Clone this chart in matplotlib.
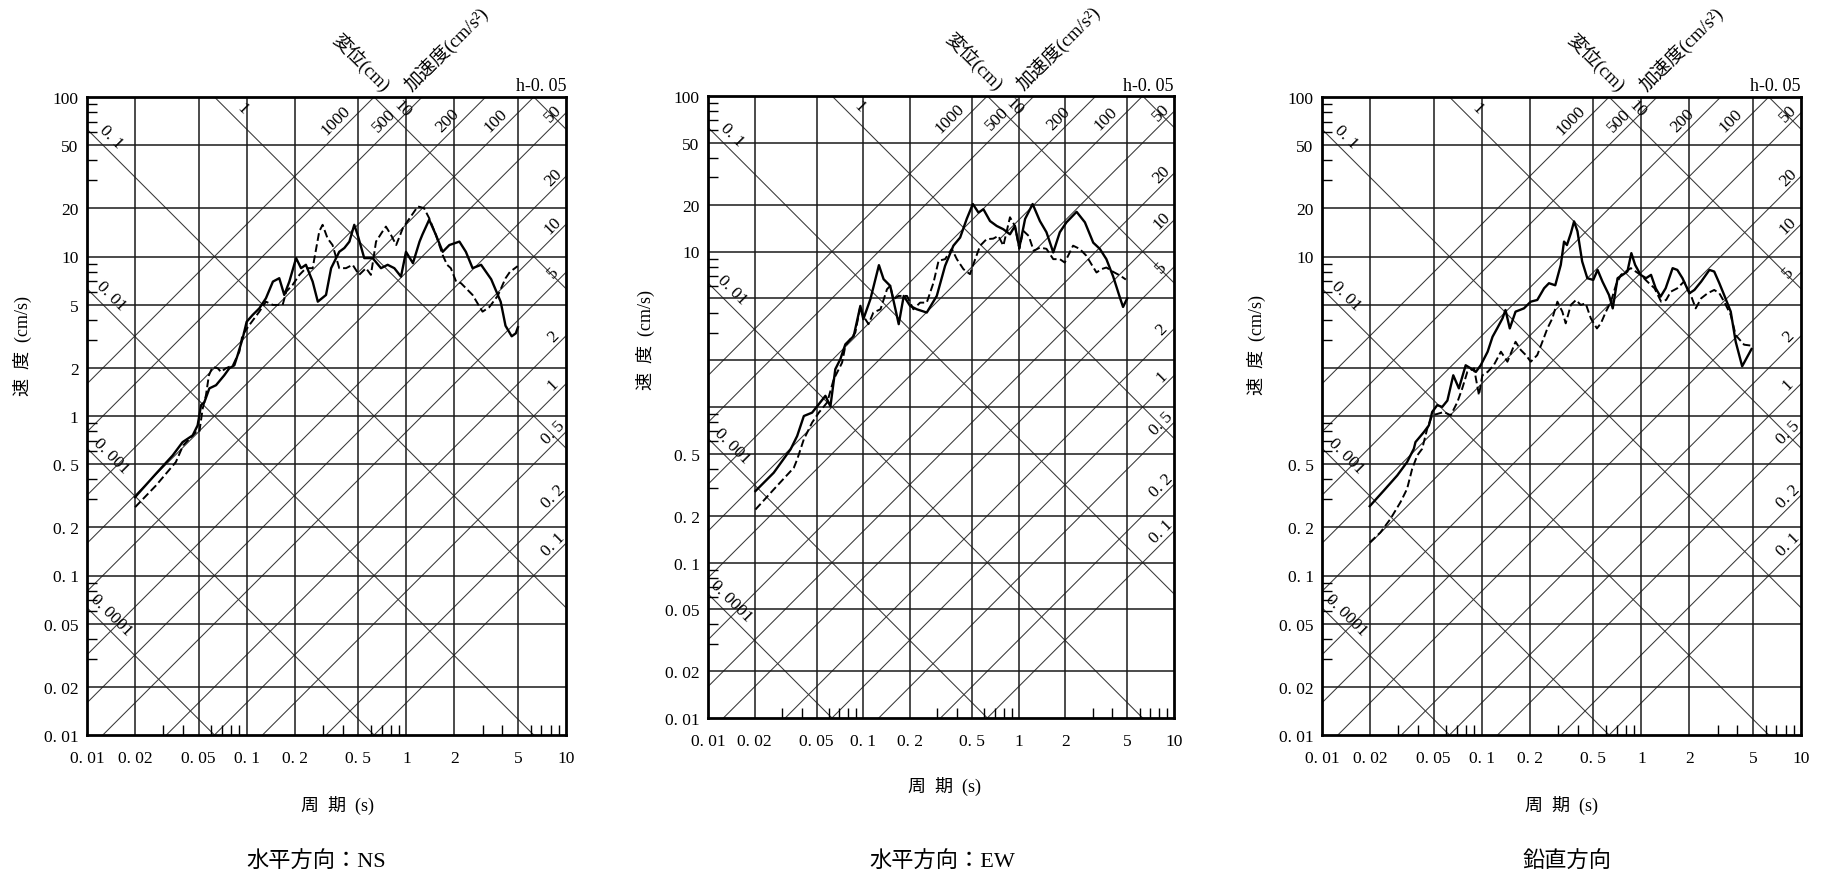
import numpy as np
import matplotlib.pyplot as plt
from matplotlib.ticker import FixedLocator, FixedFormatter, NullFormatter

plt.rcParams['font.family'] = ['Liberation Serif', 'Noto Sans CJK JP']

# 応答スペクトル (周期 s, 速度 cm/s)
ns_solid_T = [0.020, 0.027, 0.0344, 0.0397, 0.0459, 0.0493, 0.0518, 0.0543, 0.0584, 0.0643,
              0.0724, 0.0778, 0.0837, 0.0878, 0.0944, 0.100, 0.109, 0.120, 0.132, 0.146,
              0.160, 0.172, 0.185, 0.204, 0.219, 0.235, 0.259, 0.279, 0.314, 0.338,
              0.380, 0.409, 0.440, 0.472, 0.495, 0.545, 0.615, 0.694, 0.764, 0.841,
              0.926, 0.995, 1.10, 1.21, 1.26, 1.39, 1.53, 1.69, 1.86, 2.15,
              2.36, 2.60, 2.94, 3.40, 3.90, 4.18, 4.57, 4.85, 5.00]
ns_solid_V = [0.31, 0.434, 0.566, 0.686, 0.756, 0.873, 1.17, 1.22, 1.49, 1.56,
              1.80, 1.99, 2.08, 2.41, 3.07, 3.90, 4.30, 4.73, 5.47, 6.96,
              7.31, 5.74, 6.96, 9.77, 8.45, 8.87, 6.96, 5.21, 5.74, 8.45,
              10.7, 11.3, 12.4, 15.8, 13.7, 9.77, 9.77, 8.45, 8.87, 8.45,
              7.48, 10.7, 9.08, 12.4, 13.7, 17.0, 13.7, 10.7, 11.8, 12.4,
              10.7, 8.45, 8.87, 7.2, 5.2, 3.68, 3.16, 3.3, 3.6]
ns_dash_T = [0.020, 0.027, 0.036, 0.040, 0.048, 0.0505, 0.053, 0.0556, 0.058, 0.0612,
             0.066, 0.069, 0.074, 0.082, 0.090, 0.094, 0.104, 0.120, 0.132, 0.146,
             0.168, 0.177, 0.194, 0.214, 0.235, 0.259, 0.285, 0.299, 0.321, 0.345,
             0.380, 0.419, 0.461, 0.506, 0.559, 0.600, 0.646, 0.711, 0.745, 0.800,
             0.864, 0.952, 1.05, 1.18, 1.29, 1.39, 1.53, 1.69, 1.80, 1.90,
             2.05, 2.20, 2.60, 3.00, 3.30, 3.74, 4.18, 4.45, 4.98]
ns_dash_V = [0.268, 0.366, 0.514, 0.654, 0.79, 0.79, 1.11, 1.35, 1.80, 2.03,
             1.99, 1.89, 1.99, 2.08, 2.53, 3.21, 3.72, 4.51, 5.21, 4.97,
             4.97, 6.02, 6.64, 7.67, 8.45, 8.45, 14.4, 15.8, 13.0, 11.8,
             8.45, 8.45, 8.87, 7.67, 8.45, 7.67, 12.4, 14.4, 15.4, 13.7,
             11.8, 15.1, 17.4, 20.6, 20.1, 17.4, 13.7, 10.2, 8.87, 8.45,
             6.96, 6.8, 5.74, 4.51, 4.8, 5.68, 7.3, 8.0, 8.7]

ew_solid_T = [0.0202, 0.0265, 0.034, 0.0375, 0.0414, 0.0468, 0.0504, 0.057, 0.0614, 0.066,
              0.0711, 0.0766, 0.0867, 0.0957, 0.100, 0.111, 0.126, 0.135, 0.149, 0.169,
              0.182, 0.200, 0.221, 0.256, 0.297, 0.336, 0.380, 0.420, 0.463, 0.507,
              0.551, 0.593, 0.654, 0.722, 0.797, 0.879, 0.946, 1.01, 1.10, 1.23,
              1.37, 1.51, 1.67, 1.84, 2.03, 2.36, 2.67, 3.02, 3.33, 3.67,
              4.06, 4.50, 4.70, 5.00]
ew_solid_V = [0.288, 0.378, 0.534, 0.651, 0.875, 0.92, 1.01, 1.18, 1.01, 1.75,
              2.03, 2.53, 2.86, 4.47, 3.67, 4.93, 8.17, 6.64, 6.01, 3.41,
              5.18, 4.47, 4.25, 4.05, 5.18, 8.09, 10.9, 12.3, 16.2, 20.2,
              17.8, 18.7, 15.7, 14.6, 13.9, 12.9, 14.6, 10.6, 16.2, 20.2,
              15.7, 13.3, 9.86, 13.3, 15.4, 18.0, 15.4, 11.4, 10.4, 8.93,
              6.9, 5.0, 4.4, 5.0]
ew_dash_T = [0.0202, 0.0265, 0.0357, 0.0375, 0.0414, 0.0468, 0.0517, 0.0585, 0.0645, 0.0677,
             0.073, 0.0766, 0.0825, 0.0888, 0.0957, 0.100, 0.108, 0.116, 0.129, 0.142,
             0.149, 0.156, 0.169, 0.191, 0.210, 0.232, 0.256, 0.283, 0.305, 0.336,
             0.371, 0.400, 0.441, 0.486, 0.525, 0.565, 0.621, 0.686, 0.740, 0.797,
             0.879, 0.946, 1.01, 1.07, 1.16, 1.25, 1.37, 1.51, 1.67, 1.84,
             1.98, 2.24, 2.47, 2.73, 2.94, 3.17, 3.41, 3.67, 4.06, 4.50, 4.90]
ew_dash_V = [0.219, 0.295, 0.407, 0.46, 0.62, 0.794, 0.92, 1.07, 1.51, 1.66,
             1.93, 2.47, 2.73, 3.01, 4.47, 3.85, 3.41, 4.05, 4.25, 5.72,
             6.01, 4.93, 5.18, 5.18, 4.25, 4.69, 4.69, 6.31, 8.71, 8.93,
             10.4, 8.93, 7.7, 7.15, 8.93, 10.9, 12.0, 12.1, 12.6, 10.9,
             16.6, 14.6, 10.4, 13.6, 12.6, 10.1, 10.6, 10.4, 8.93, 8.93,
             8.49, 10.9, 10.4, 9.38, 8.28, 7.33, 7.7, 7.89, 7.4, 7.0, 6.6]

ud_solid_T = [0.0199, 0.0244, 0.0296, 0.0341, 0.0376, 0.0385, 0.0435, 0.0467, 0.049, 0.0527,
              0.0566, 0.061, 0.0664, 0.072, 0.0794, 0.0853, 0.092, 0.0986, 0.109, 0.117,
              0.125, 0.135, 0.141, 0.150, 0.163, 0.184, 0.203, 0.223, 0.246, 0.264,
              0.289, 0.313, 0.328, 0.342, 0.362, 0.379, 0.398, 0.426, 0.459, 0.500,
              0.532, 0.571, 0.627, 0.662, 0.710, 0.763, 0.818, 0.866, 0.914, 0.989,
              1.07, 1.15, 1.23, 1.32, 1.42, 1.57, 1.68, 1.81, 2.00, 2.15,
              2.37, 2.67, 2.86, 3.08, 3.30, 3.63, 3.90, 4.28, 4.90]
ud_solid_V = [0.272, 0.341, 0.424, 0.514, 0.623, 0.686, 0.794, 0.873, 1.06, 1.17,
              1.14, 1.25, 1.80, 1.49, 2.08, 1.99, 1.89, 2.08, 2.53, 3.14,
              3.54, 4.09, 4.62, 3.54, 4.51, 4.73, 5.21, 5.34, 6.32, 6.80,
              6.6, 8.87, 12.4, 11.8, 14.0, 16.6, 14.4, 9.31, 7.31, 7.13,
              8.24, 6.96, 5.74, 4.73, 7.31, 7.67, 8.05, 10.5, 8.87, 7.67,
              7.31, 7.67, 6.32, 5.6, 6.32, 8.45, 8.24, 7.31, 5.88, 6.17,
              6.96, 8.24, 8.05, 6.80, 5.74, 4.51, 2.92, 2.05, 2.63]
ud_dash_T = [0.0199, 0.0232, 0.0268, 0.031, 0.0341, 0.0367, 0.0395, 0.0424, 0.0456, 0.049,
             0.0527, 0.058, 0.064, 0.0704, 0.0756, 0.0813, 0.0896, 0.0962, 0.101, 0.109,
             0.119, 0.132, 0.145, 0.163, 0.176, 0.189, 0.203, 0.223, 0.240, 0.258,
             0.277, 0.298, 0.320, 0.336, 0.362, 0.390, 0.417, 0.448, 0.483, 0.527,
             0.558, 0.600, 0.645, 0.694, 0.745, 0.800, 0.860, 0.922, 0.990, 1.09,
             1.21, 1.33, 1.43, 1.53, 1.68, 1.85, 2.04, 2.19, 2.37, 2.60,
             2.86, 3.08, 3.30, 3.63, 3.90, 4.40, 4.90]
ud_dash_V = [0.161, 0.186, 0.226, 0.288, 0.349, 0.466, 0.566, 0.623, 0.832, 1.01,
             1.03, 1.06, 1.01, 1.22, 1.49, 1.89, 1.99, 1.35, 1.80, 1.89,
             2.08, 2.53, 2.19, 2.92, 2.59, 2.41, 2.19, 2.41, 2.92, 3.54,
             4.09, 5.21, 4.51, 3.81, 4.97, 5.34, 4.97, 5.08, 4.09, 3.54,
             3.81, 4.51, 5.21, 6.64, 7.67, 8.05, 8.45, 8.05, 7.67, 6.96,
             6.32, 5.21, 5.34, 6.02, 6.32, 6.96, 5.74, 4.73, 5.47, 5.88,
             6.17, 5.88, 5.21, 4.30, 3.21, 2.8, 2.76]

x_ticks = [0.01, 0.02, 0.05, 0.1, 0.2, 0.5, 1, 2, 5, 10]
x_ticklabels = ['0. 01', '0. 02', '0. 05', '0. 1', '0. 2', '0. 5', '1', '2', '5', '10']
y_ticks = [0.01, 0.02, 0.05, 0.1, 0.2, 0.5, 1, 2, 5, 10, 20, 50, 100]
y_ticklabels_ns = ['0. 01', '0. 02', '0. 05', '0. 1', '0. 2', '0. 5', '1', '2', '5', '10', '20', '50', '100']
y_ticklabels_other = ['0. 01', '0. 02', '0. 05', '0. 1', '0. 2', '0. 5', '', '', '', '10', '20', '50', '100']

disp_lines = [0.0001, 0.001, 0.01, 0.1, 1, 10, 100]          # 変位 (cm)
acc_lines = [0.1, 0.2, 0.5, 1, 2, 5, 10, 20, 50, 100, 200, 500, 1000]  # 加速度 (cm/s2)
disp_labels = ['0. 0001', '0. 001', '0. 01', '0. 1', '1', '10']
acc_right_labels = ['0. 1', '0. 2', '0. 5', '1', '2', '5', '10', '20', '50']
acc_top_labels = ['100', '200', '500', '1000']

titles = ['水平方向：NS', '水平方向：EW', '鉛直方向']

W, H = 1824, 879
fig = plt.figure(figsize=(W / 100, H / 100), dpi=100)

# axes boxes in pixels: left, top, right, bottom
boxes = [(87, 98, 566, 736), (708, 97, 1174, 719), (1322, 98, 1801, 736)]
xlabel_xy = [(338, 805), (944, 786), (1562, 805)]
ylabel_xy = [(22, 346), (645, 340), (1256, 345)]
title_xy = [(316, 862), (942, 862), (1567, 862)]

minor = [d * m for d in (0.01, 0.1, 1, 10) for m in (3, 4, 6, 7, 8, 9)]
TWO_PI = 2 * np.pi
grid_c = '#1a1a1a'
diag_c = '#383838'
lab_fs = 12.5


def lbl_value(s):
    return float(s.replace(' ', ''))


def draw_panel(i, solid_T, solid_V, dash_T, dash_V, ylabels):
    l, t, r, b = boxes[i]
    ax = fig.add_axes([l / W, 1 - b / H, (r - l) / W, (b - t) / H])
    ax.set_xscale('log')
    ax.set_yscale('log')
    ax.set_xlim(0.01, 10)
    ax.set_ylim(0.01, 100)

    T = np.array([0.005, 20.0])
    for d in disp_lines:
        ax.plot(T, TWO_PI * d / T, color=diag_c, lw=0.75, zorder=1)
    for a in acc_lines:
        ax.plot(T, a * T / TWO_PI, color=diag_c, lw=0.75, zorder=1)
    for xv in x_ticks[1:-1]:
        ax.axvline(xv, color=grid_c, lw=1.1, zorder=1.5)
    for yv in y_ticks[1:-1]:
        ax.axhline(yv, color=grid_c, lw=1.1, zorder=1.5)

    ax.plot(solid_T, solid_V, color='black', lw=1.7, zorder=3)
    ax.plot(dash_T, dash_V, color='black', lw=1.4, ls=(0, (4, 1.8)), zorder=3)

    ax.xaxis.set_major_locator(FixedLocator(x_ticks))
    ax.xaxis.set_major_formatter(FixedFormatter(x_ticklabels))
    ax.yaxis.set_major_locator(FixedLocator(y_ticks))
    ax.yaxis.set_major_formatter(FixedFormatter(ylabels))
    ax.xaxis.set_minor_locator(FixedLocator(minor))
    ax.yaxis.set_minor_locator(FixedLocator(minor))
    ax.xaxis.set_minor_formatter(NullFormatter())
    ax.yaxis.set_minor_formatter(NullFormatter())
    ax.tick_params(which='major', length=0, labelsize=12.5)
    ax.tick_params(axis='x', which='major', pad=11)
    ax.tick_params(axis='y', which='major', pad=6)
    ax.tick_params(which='minor', direction='in', length=7, width=1.0, color='black')
    for sp in ax.spines.values():
        sp.set_linewidth(2.0)

    # displacement labels (along descending lines)
    for s in disp_labels:
        d = lbl_value(s)
        if TWO_PI * d / 0.0135 < 80:
            tx = 0.0142
        else:
            tx = TWO_PI * d / 100 * 1.5
        ax.text(tx, 1.28 * TWO_PI * d / tx, s, rotation=-45, ha='center', va='center',
                fontsize=lab_fs, zorder=4)
    # acceleration labels (along ascending lines)
    for s in acc_right_labels:
        a = lbl_value(s)
        tx = 8.3
        ax.text(tx, 1.2 * a * tx / TWO_PI, s, rotation=45, ha='center', va='center',
                fontsize=lab_fs, zorder=4)
    for s in acc_top_labels:
        a = lbl_value(s)
        tx = 72 / 1.25 * TWO_PI / a
        ax.text(tx, 72, s, rotation=45, ha='center', va='center', fontsize=lab_fs, zorder=4)

    ax.text(0.68, 104, '変位(cm)', rotation=-45, rotation_mode='anchor', ha='right',
            va='bottom', fontsize=13.5, clip_on=False)
    ax.text(1.12, 104, '加速度(cm/s²)', rotation=45, rotation_mode='anchor', ha='left',
            va='bottom', fontsize=13.5, clip_on=False)
    ax.text(1.0, 1.004, 'h-0. 05', transform=ax.transAxes, ha='right', va='bottom',
            fontsize=13)

    fig.text(xlabel_xy[i][0] / W, 1 - xlabel_xy[i][1] / H, '周  期  (s)', ha='center',
             va='center', fontsize=13)
    fig.text(ylabel_xy[i][0] / W, 1 - ylabel_xy[i][1] / H, '速  度  (cm/s)', ha='center',
             va='center', rotation=90, fontsize=13)
    fig.text(title_xy[i][0] / W, 1 - title_xy[i][1] / H, titles[i], ha='center',
             va='center', fontsize=16)
    return ax


draw_panel(0, ns_solid_T, ns_solid_V, ns_dash_T, ns_dash_V, y_ticklabels_ns)
draw_panel(1, ew_solid_T, ew_solid_V, ew_dash_T, ew_dash_V, y_ticklabels_other)
draw_panel(2, ud_solid_T, ud_solid_V, ud_dash_T, ud_dash_V, y_ticklabels_other)

fig.savefig('out.png', dpi=100)
